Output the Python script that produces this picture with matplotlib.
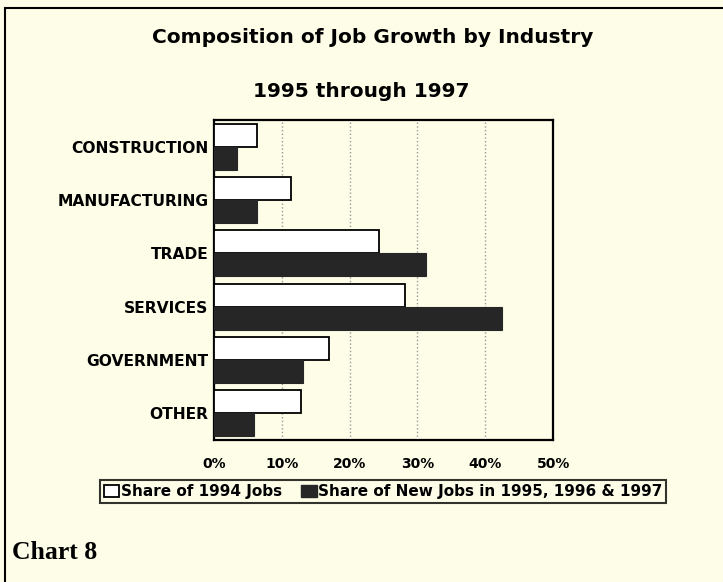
import matplotlib.pyplot as plt
import numpy as np
from matplotlib.patches import Rectangle, Patch

industries = ['CONSTRUCTION', 'MANUFACTURING', 'TRADE', 'SERVICES', 'GOVERNMENT', 'OTHER']
share_1994 = [6.3, 11.3, 24.3, 28.2, 16.9, 12.9]
share_new = [3.4, 6.3, 31.3, 42.4, 13.1, 5.9]
xticks = [0, 10, 20, 30, 40, 50]

bg = '#fdfde8'
dark = '#262626'

fig = plt.figure(figsize=(7.23, 5.82), dpi=100, facecolor=bg)
ax = fig.add_axes([0.296, 0.244, 0.469, 0.550], facecolor=bg)

y = np.arange(len(industries))
h = 0.43
ax.barh(y - h / 2, share_1994, height=h, color='white', edgecolor='black', linewidth=1.3, zorder=3)
ax.barh(y + h / 2, share_new, height=h, color=dark, edgecolor=dark, linewidth=0.8, zorder=3)

ax.set_xlim(0, 50)
ax.set_ylim(len(industries) - 0.5, -0.5)
ax.set_yticks(y)
ax.set_yticklabels(industries, fontsize=11.2, fontweight='heavy')
ax.set_xticks(xticks)
ax.set_xticklabels([f'{t}%' for t in xticks], fontsize=10, fontweight='heavy')
ax.tick_params(axis='y', length=0, pad=4)
ax.tick_params(axis='x', length=0, pad=12)
ax.xaxis.grid(True, linestyle=':', color='#999999', linewidth=1, zorder=0)
for s in ax.spines.values():
    s.set_linewidth(1.6)
    s.set_color('black')

fig.text(0.516, 0.936, 'Composition of Job Growth by Industry', ha='center', va='center',
         fontsize=14.5, fontweight='bold')
fig.text(0.500, 0.842, '1995 through 1997', ha='center', va='center',
         fontsize=14.5, fontweight='bold')

handles = [Patch(facecolor='white', edgecolor='black', linewidth=1.3),
           Patch(facecolor=dark, edgecolor=dark)]
leg = fig.legend(handles, ['Share of 1994 Jobs', 'Share of New Jobs in 1995, 1996 & 1997'],
                 loc='center', bbox_to_anchor=(0.530, 0.155), ncol=2, frameon=True,
                 fancybox=False, prop={'size': 11, 'weight': 'bold'},
                 handlelength=1.0, handleheight=0.8, handletextpad=0.1,
                 columnspacing=1.3, borderpad=0.25, borderaxespad=0)
leg.get_frame().set_edgecolor('black')
leg.get_frame().set_linewidth(1.5)
leg.get_frame().set_facecolor(bg)

fig.text(0.017, 0.05, 'Chart 8', ha='left', va='center', fontsize=18.5, fontweight='bold',
         family='Liberation Serif')

fig.patches.append(Rectangle((0.007, -0.05), 1.2, 1.036, transform=fig.transFigure,
                             fill=False, edgecolor='black', linewidth=1.5))

fig.savefig('out.png', dpi=100, facecolor=bg)
